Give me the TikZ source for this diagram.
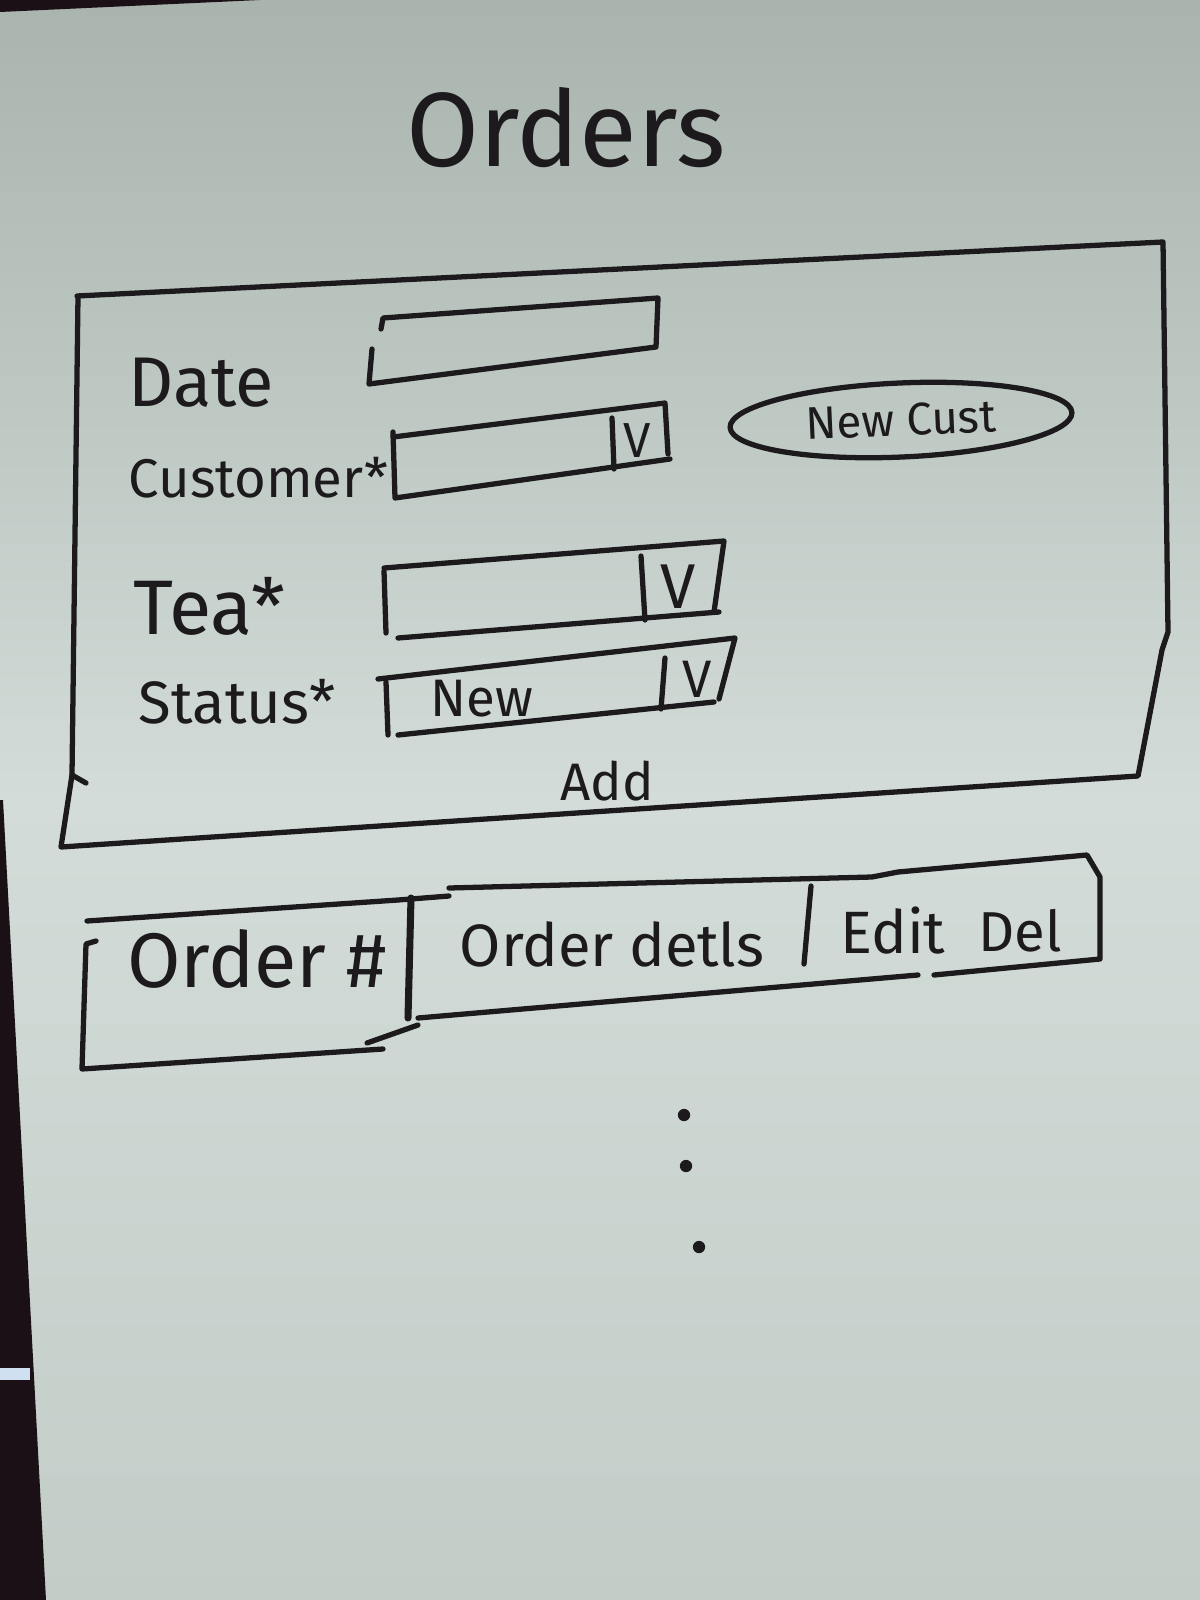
\documentclass[tikz,border=0pt]{standalone}
\usepackage{fontspec}
\setmainfont{Fira Sans}
\usetikzlibrary{shapes.geometric}
\definecolor{ink}{HTML}{1C1A1C}
\definecolor{bgtop}{HTML}{A9B4AE}
\definecolor{bgmid}{HTML}{D3DCD8}
\definecolor{bgbot}{HTML}{C3CDC8}
\definecolor{edgedark}{HTML}{1A1016}
\definecolor{glint}{HTML}{CFE0F0}
\tikzset{
  pen/.style={draw=ink, line width=1.5pt, line cap=round, line join=round},
  lbl/.style={text=ink, inner sep=0pt, font=\fontsize{#1}{#1}\selectfont},
  dotmark/.style={circle, fill=ink, inner sep=0pt, minimum size=3.5pt},
}
\begin{document}
\begin{tikzpicture}[x=0.01cm,y=-0.01cm]
\useasboundingbox (0,0) rectangle (1200,1600);
\shade[top color=bgtop, bottom color=bgbot, middle color=bgmid] (0,0) rectangle (1200,1600);
\fill[edgedark] (0,0) -- (260,0) -- (0,12) -- cycle;
\fill[edgedark] (0,800) -- (3,800) -- (46,1600) -- (0,1600) -- cycle;
\fill[glint] (0,1368) rectangle (30,1380);

% title
\node[lbl=30] (title) at (566,128) {Orders};

% form frame
\draw[pen] (77,296) -- (1163,242) -- (1168,632) -- (1162,650) -- (1138,776) -- (61,847) -- (72,775) -- (78,296);
\draw[pen] (72,775) -- (86,783);

% labels
\node[lbl=20, anchor=west] (date) at (128,383) {Date};
\node[lbl=15.5, anchor=west] (cust) at (128,478) {Customer*};
\node[lbl=22, anchor=west] (tea) at (133,606) {Tea*};
\node[lbl=17, anchor=west] (status) at (138,702) {Status*};

% date box
\draw[pen] (372,349) -- (369,384) -- (656,347) -- (658,298) -- (383,318) -- (381,329);

% customer dropdown
\draw[pen] (393,432) -- (395,498) -- (670,459);
\draw[pen] (393,437) -- (665,403) -- (668,454);
\draw[pen] (612,418) -- (614,469);
\node[lbl=14] (custv) at (637,441) {V};

% new customer button
\node[pen, ellipse, minimum width=3.42cm, minimum height=0.74cm, rotate=2.5,
      lbl=13] (newcust) at (901,420) {New Cust};

% tea dropdown
\draw[pen] (384,571) -- (386,633);
\draw[pen] (384,568) -- (724,541) -- (714,612);
\draw[pen] (398,638) -- (719,612);
\draw[pen] (641,556) -- (645,620);
\node[lbl=18] (teav) at (678,587) {V};

% status dropdown
\draw[pen] (386,682) -- (388,735);
\draw[pen] (378,679) -- (735,638) -- (719,699);
\draw[pen] (398,735) -- (714,702);
\draw[pen] (665,658) -- (661,709);
\node[lbl=15] (statusval) at (482,699) {New};
\node[lbl=15] (statusv) at (697,679) {V};

% add
\node[lbl=15] (add) at (607,781) {Add};

% table row
\draw[pen] (87,921) -- (398,900) -- (449,896);
\draw[pen] (96,941) -- (86,944) -- (82,1069) -- (383,1049);
\draw[pen] (367,1043) -- (418,1025);
\draw[pen, line width=2pt] (411,898) -- (408,1018);
\draw[pen] (449,888) -- (872,877) -- (898,872) -- (1087,855) -- (1100,877) -- (1100,959) -- (934,975);
\draw[pen] (418,1018) -- (918,975);
\draw[pen] (811,886) -- (804,964);
\node[lbl=22] (ordnum) at (257,959) {Order \#};
\node[lbl=17] (orddet) at (612,944) {Order detls};
\node[lbl=17] (edit) at (893,931) {Edit};
\node[lbl=16] (del) at (1020,931) {Del};

% continuation dots
\node[dotmark] (d1) at (684,1115) {};
\node[dotmark] (d2) at (686,1166) {};
\node[dotmark] (d3) at (699,1247) {};
\end{tikzpicture}
\end{document}
